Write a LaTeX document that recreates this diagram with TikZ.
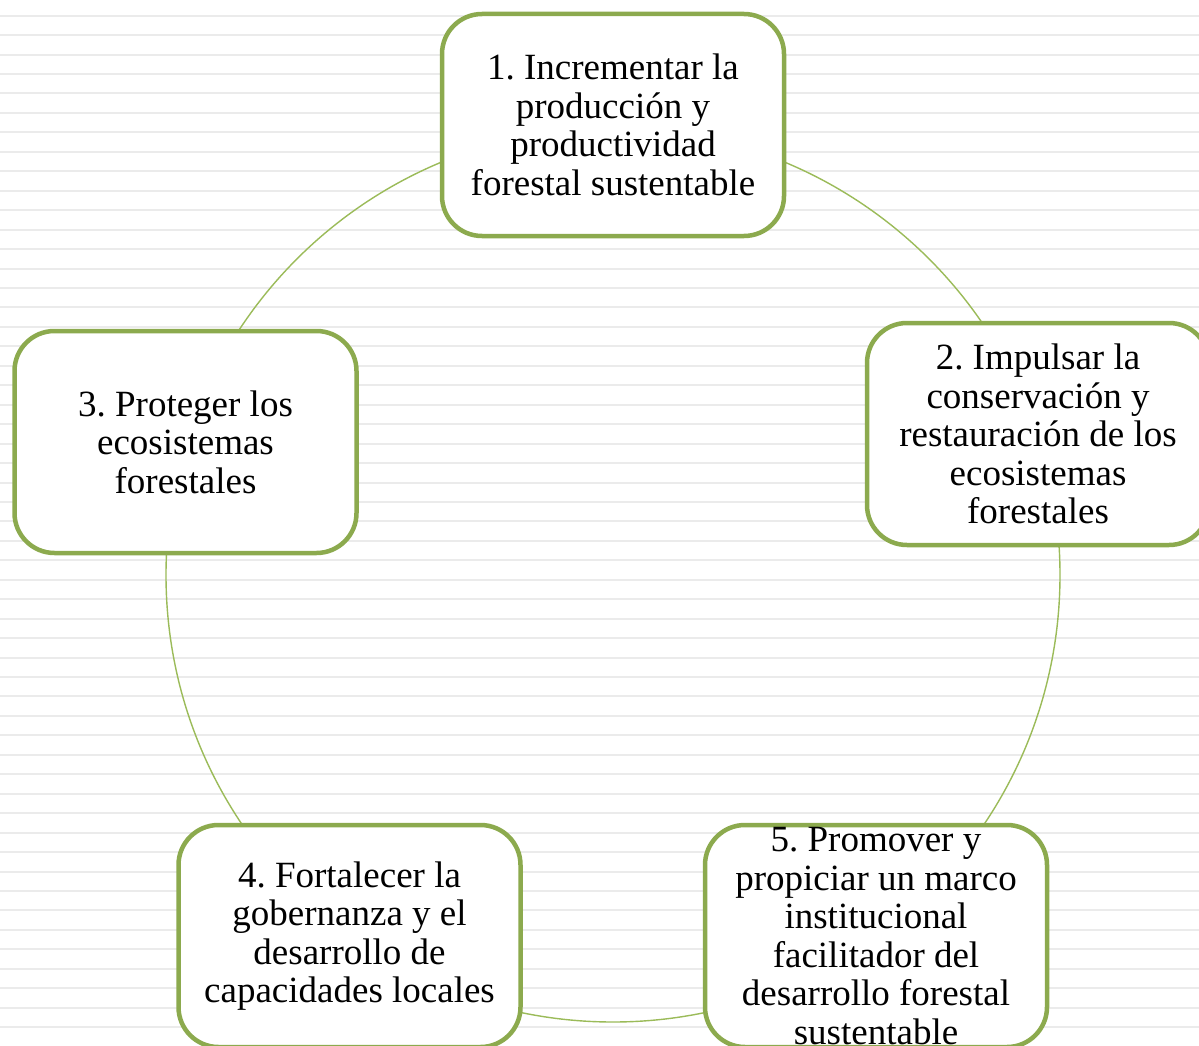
\documentclass[tikz,border=0pt]{standalone}
\usepackage{fontspec}
\setmainfont{Liberation Serif}
\frenchspacing
\definecolor{boxgreen}{HTML}{8CAA4E}
\definecolor{ringgreen}{HTML}{9BBB59}
\definecolor{ruleline}{HTML}{EBEBEB}
\tikzset{
  stepbox/.style={draw=boxgreen, line width=4.5pt, fill=white, rounded corners=40pt,
    minimum width=342pt, minimum height=222pt, inner sep=0pt},
  steptext/.style={align=center, inner sep=0pt, font=\fontsize{37}{38.6}\selectfont\frenchspacing, text=black},
  ring/.style={draw=ringgreen, line width=1.4pt},
  paper/.style={draw=ruleline, line width=2pt}
}
\begin{document}
\begin{tikzpicture}[x=1pt,y=-1pt]
\useasboundingbox (0,0) rectangle (1199,1046);
\fill[white] (0,0) rectangle (1199,1046);
\foreach \i in {0,...,53} {
  \draw[paper] (0,{15.7+19.45*\i}) -- (1199,{15.7+19.45*\i});
}
\coordinate (c) at (613,575);
\draw[ring] (c) circle[radius=447pt];
\node[stepbox] (b1) at (613,125) {};
\node[stepbox] (b2) at (1038,434) {};
\node[stepbox] (b3) at (185.5,442) {};
\node[stepbox] (b4) at (349.5,936) {};
\node[stepbox] (b5) at (876,936) {};
\node[steptext] (t1) at (b1) {1. Incrementar la\\producción y\\productividad\\forestal sustentable};
\node[steptext] (t2) at (b2) {2. Impulsar la\\conservación y\\restauración de los\\ecosistemas\\forestales};
\node[steptext] (t3) at (b3) {3. Proteger los\\ecosistemas\\forestales};
\node[steptext] (t4) at (b4) {4. Fortalecer la\\gobernanza y el\\desarrollo de\\capacidades locales};
\node[steptext] (t5) at (b5) {5. Promover y\\propiciar un marco\\institucional\\facilitador del\\desarrollo forestal\\sustentable};
\end{tikzpicture}
\end{document}
